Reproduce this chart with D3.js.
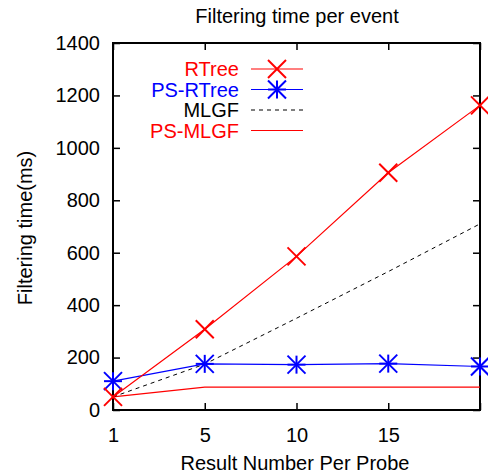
<!DOCTYPE html>
<html>
<head>
<meta charset="utf-8">
<script src="https://cdn.jsdelivr.net/npm/d3@7"></script>
<style>
  body { margin: 0; background: #fff; }
  text { font-family: "Liberation Sans", Arial, sans-serif; }
</style>
</head>
<body>
<div id="chart"></div>
<script>
// Filtering time per event: four series over result number per probe

const categories = [1, 5, 10, 15, 20];
const xTickLabels = ["1", "5", "10", "15", ""];
const yTicks = [0, 200, 400, 600, 800, 1000, 1200, 1400];

const rtree = [50, 308, 586, 905, 1162];
const psRtree = [110, 176, 173, 177, 166];
const mlgf = [50, 175, 350, 528, 710];
const psMlgf = [50, 87, 87, 87, 87];

const series = [
    {name: "RTree", values: rtree, color: "#ff0000", width: 1.2, dash: null, marker: "x"},
    {name: "PS-RTree", values: psRtree, color: "#0000ff", width: 1.2, dash: null, marker: "star"},
    {name: "MLGF", values: mlgf, color: "#000000", width: 1, dash: "4 4", marker: null},
    {name: "PS-MLGF", values: psMlgf, color: "#ff0000", width: 1.2, dash: null, marker: null}
];

const W = 488, H = 474;
const margin = {top: 43, right: 8, bottom: 64, left: 113};
const width = W - margin.left - margin.right;
const height = H - margin.top - margin.bottom;
const fontSize = "20px";

const svg = d3.select("#chart").append("svg")
    .attr("width", W)
    .attr("height", H);

const g = svg.append("g")
    .attr("transform", `translate(${margin.left},${margin.top})`);

const x = d3.scalePoint().domain(categories).range([0, width]);
const y = d3.scaleLinear().domain([0, 1400]).range([height, 0]);

// Ticks, pointing inwards on all four sides
const tickLen = 7;
const bottomAxis = d3.axisBottom(x).tickSize(-tickLen).tickFormat((d, i) => xTickLabels[i]).tickPadding(18);
const topAxis = d3.axisTop(x).tickSize(-tickLen).tickFormat("");
const leftAxis = d3.axisLeft(y).tickValues(yTicks).tickSize(-tickLen).tickFormat(d3.format("d")).tickPadding(13);
const rightAxis = d3.axisRight(y).tickValues(yTicks).tickSize(-tickLen).tickFormat("");

function styleAxis(sel) {
    sel.select(".domain").remove();
    sel.selectAll(".tick line").attr("stroke", "#000").attr("stroke-width", 1.5);
    sel.selectAll(".tick text").attr("fill", "#000").style("font-size", fontSize);
}

g.append("g").attr("transform", `translate(0,${height})`).call(bottomAxis).call(styleAxis);
g.append("g").call(topAxis).call(styleAxis);
g.append("g").call(leftAxis).call(styleAxis);
g.append("g").attr("transform", `translate(${width},0)`).call(rightAxis).call(styleAxis);

// Plot border
g.append("rect")
    .attr("width", width)
    .attr("height", height)
    .attr("fill", "none")
    .attr("stroke", "#000")
    .attr("stroke-width", 2);

// Marker drawing helpers
function drawMarker(sel, type, cx, cy, color) {
    const r = 9;
    let segs = [];
    if (type === "x") {
        segs = [[-r, -r, r, r], [-r, r, r, -r]];
    } else if (type === "star") {
        segs = [[-r, 0, r, 0], [0, -r, 0, r], [-r, -r, r, r], [-r, r, r, -r]];
    }
    segs.forEach(s => {
        sel.append("line")
            .attr("x1", cx + s[0]).attr("y1", cy + s[1])
            .attr("x2", cx + s[2]).attr("y2", cy + s[3])
            .attr("stroke", color)
            .attr("stroke-width", 2);
    });
}

const line = d3.line()
    .x((d, i) => x(categories[i]))
    .y(d => y(d));

// Draw series (bottom-most first)
series.slice().reverse().forEach(s => {
    g.append("path")
        .datum(s.values)
        .attr("fill", "none")
        .attr("stroke", s.color)
        .attr("stroke-width", s.width)
        .attr("stroke-dasharray", s.dash)
        .attr("d", line);
    if (s.marker) {
        s.values.forEach((v, i) => drawMarker(g, s.marker, x(categories[i]), y(v), s.color));
    }
});

// Legend
const legend = svg.append("g");
series.forEach((s, i) => {
    const ly = 69 + i * 20.5;
    legend.append("text")
        .attr("x", 239)
        .attr("y", ly)
        .attr("dy", "0.35em")
        .attr("text-anchor", "end")
        .attr("fill", s.color)
        .style("font-size", fontSize)
        .text(s.name);
    legend.append("line")
        .attr("x1", 251).attr("x2", 303)
        .attr("y1", ly).attr("y2", ly)
        .attr("stroke", s.color)
        .attr("stroke-width", s.width)
        .attr("stroke-dasharray", s.dash);
    if (s.marker) drawMarker(legend, s.marker, 277, ly, s.color);
});

// Title and axis labels
svg.append("text")
    .attr("x", 297)
    .attr("y", 23)
    .attr("text-anchor", "middle")
    .style("font-size", fontSize)
    .text("Filtering time per event");

svg.append("text")
    .attr("x", 295)
    .attr("y", 470)
    .attr("text-anchor", "middle")
    .style("font-size", fontSize)
    .text("Result Number Per Probe");

svg.append("text")
    .attr("transform", `translate(32,228) rotate(-90)`)
    .attr("text-anchor", "middle")
    .style("font-size", fontSize)
    .text("Filtering time(ms)");
</script>
</body>
</html>
